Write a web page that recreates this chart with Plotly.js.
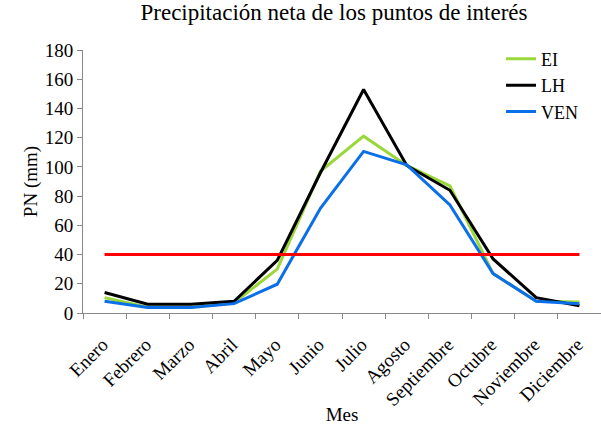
<!DOCTYPE html>
<html>
<head>
<meta charset="utf-8">
<script src="https://cdn.plot.ly/plotly-3.0.1.min.js"></script>
<style>html,body{margin:0;padding:0;background:#fff;}#chart{width:601px;height:425px;}</style>
</head>
<body>
<div id="chart"></div>
<script>
const meses = ["Enero","Febrero","Marzo","Abril","Mayo","Junio","Julio","Agosto","Septiembre","Octubre","Noviembre","Diciembre"];
const EI  = [10.5, 4, 4, 7, 30, 97, 121, 101, 87, 27, 8, 7.5];
const LH  = [14, 6, 6, 8, 36, 96, 153, 101, 84, 37, 10.5, 5];
const VEN = [8, 3.7, 3.7, 6.4, 19.7, 71.7, 110.6, 101.4, 74, 27, 8, 6.4];
const umbral = [40, 40, 40, 40, 40, 40, 40, 40, 40, 40, 40, 40];

const font = "Liberation Serif";
const traces = [
  {x: meses, y: EI, name: "EI", mode: "lines", line: {color: "#9ad83a", width: 3}},
  {x: meses, y: LH, name: "LH", mode: "lines", line: {color: "#000000", width: 3}},
  {x: meses, y: VEN, name: "VEN", mode: "lines", line: {color: "#0a6fe8", width: 3}},
  {x: meses, y: umbral, name: "umbral", mode: "lines", showlegend: false, line: {color: "#ff0000", width: 3}}
];
const layout = {
  width: 601, height: 425,
  margin: {l: 83, r: 0, t: 50, b: 112},
  paper_bgcolor: "#fff", plot_bgcolor: "#fff",
  font: {family: font, size: 19, color: "#000"},
  title: {text: "Precipitación neta de los puntos de interés", x: 334/601, xanchor: "center", y: 0.99, yanchor: "top", font: {family: font, size: 23, color: "#000"}},
  xaxis: {
    type: "category", range: [-0.5, 11.5], tickangle: -45, tickson: "boundaries", ticks: "outside", ticklen: 5, tickcolor: "#888",
    showline: true, linecolor: "#888", linewidth: 1, showgrid: false, zeroline: false,
    tickfont: {family: font, size: 19}, ticklabelshift: -2, ticklabelstandoff: 12,
    title: {text: "Mes", font: {family: font, size: 19}, standoff: 0}
  },
  yaxis: {
    range: [0, 180], dtick: 20, ticks: "outside", ticklen: 5, tickcolor: "#888",
    showline: true, linecolor: "#888", linewidth: 1, showgrid: false, zeroline: false,
    tickfont: {family: font, size: 19},
    title: {text: "PN (mm)", font: {family: font, size: 19}, standoff: 2}
  },
  legend: {x: 0.807, y: 1.036, xanchor: "left", yanchor: "top", bgcolor: "rgba(0,0,0,0)", font: {family: font, size: 18}, tracegroupgap: 0}
};
Plotly.newPlot("chart", traces, layout, {displayModeBar: false, staticPlot: true});
</script>
</body>
</html>
